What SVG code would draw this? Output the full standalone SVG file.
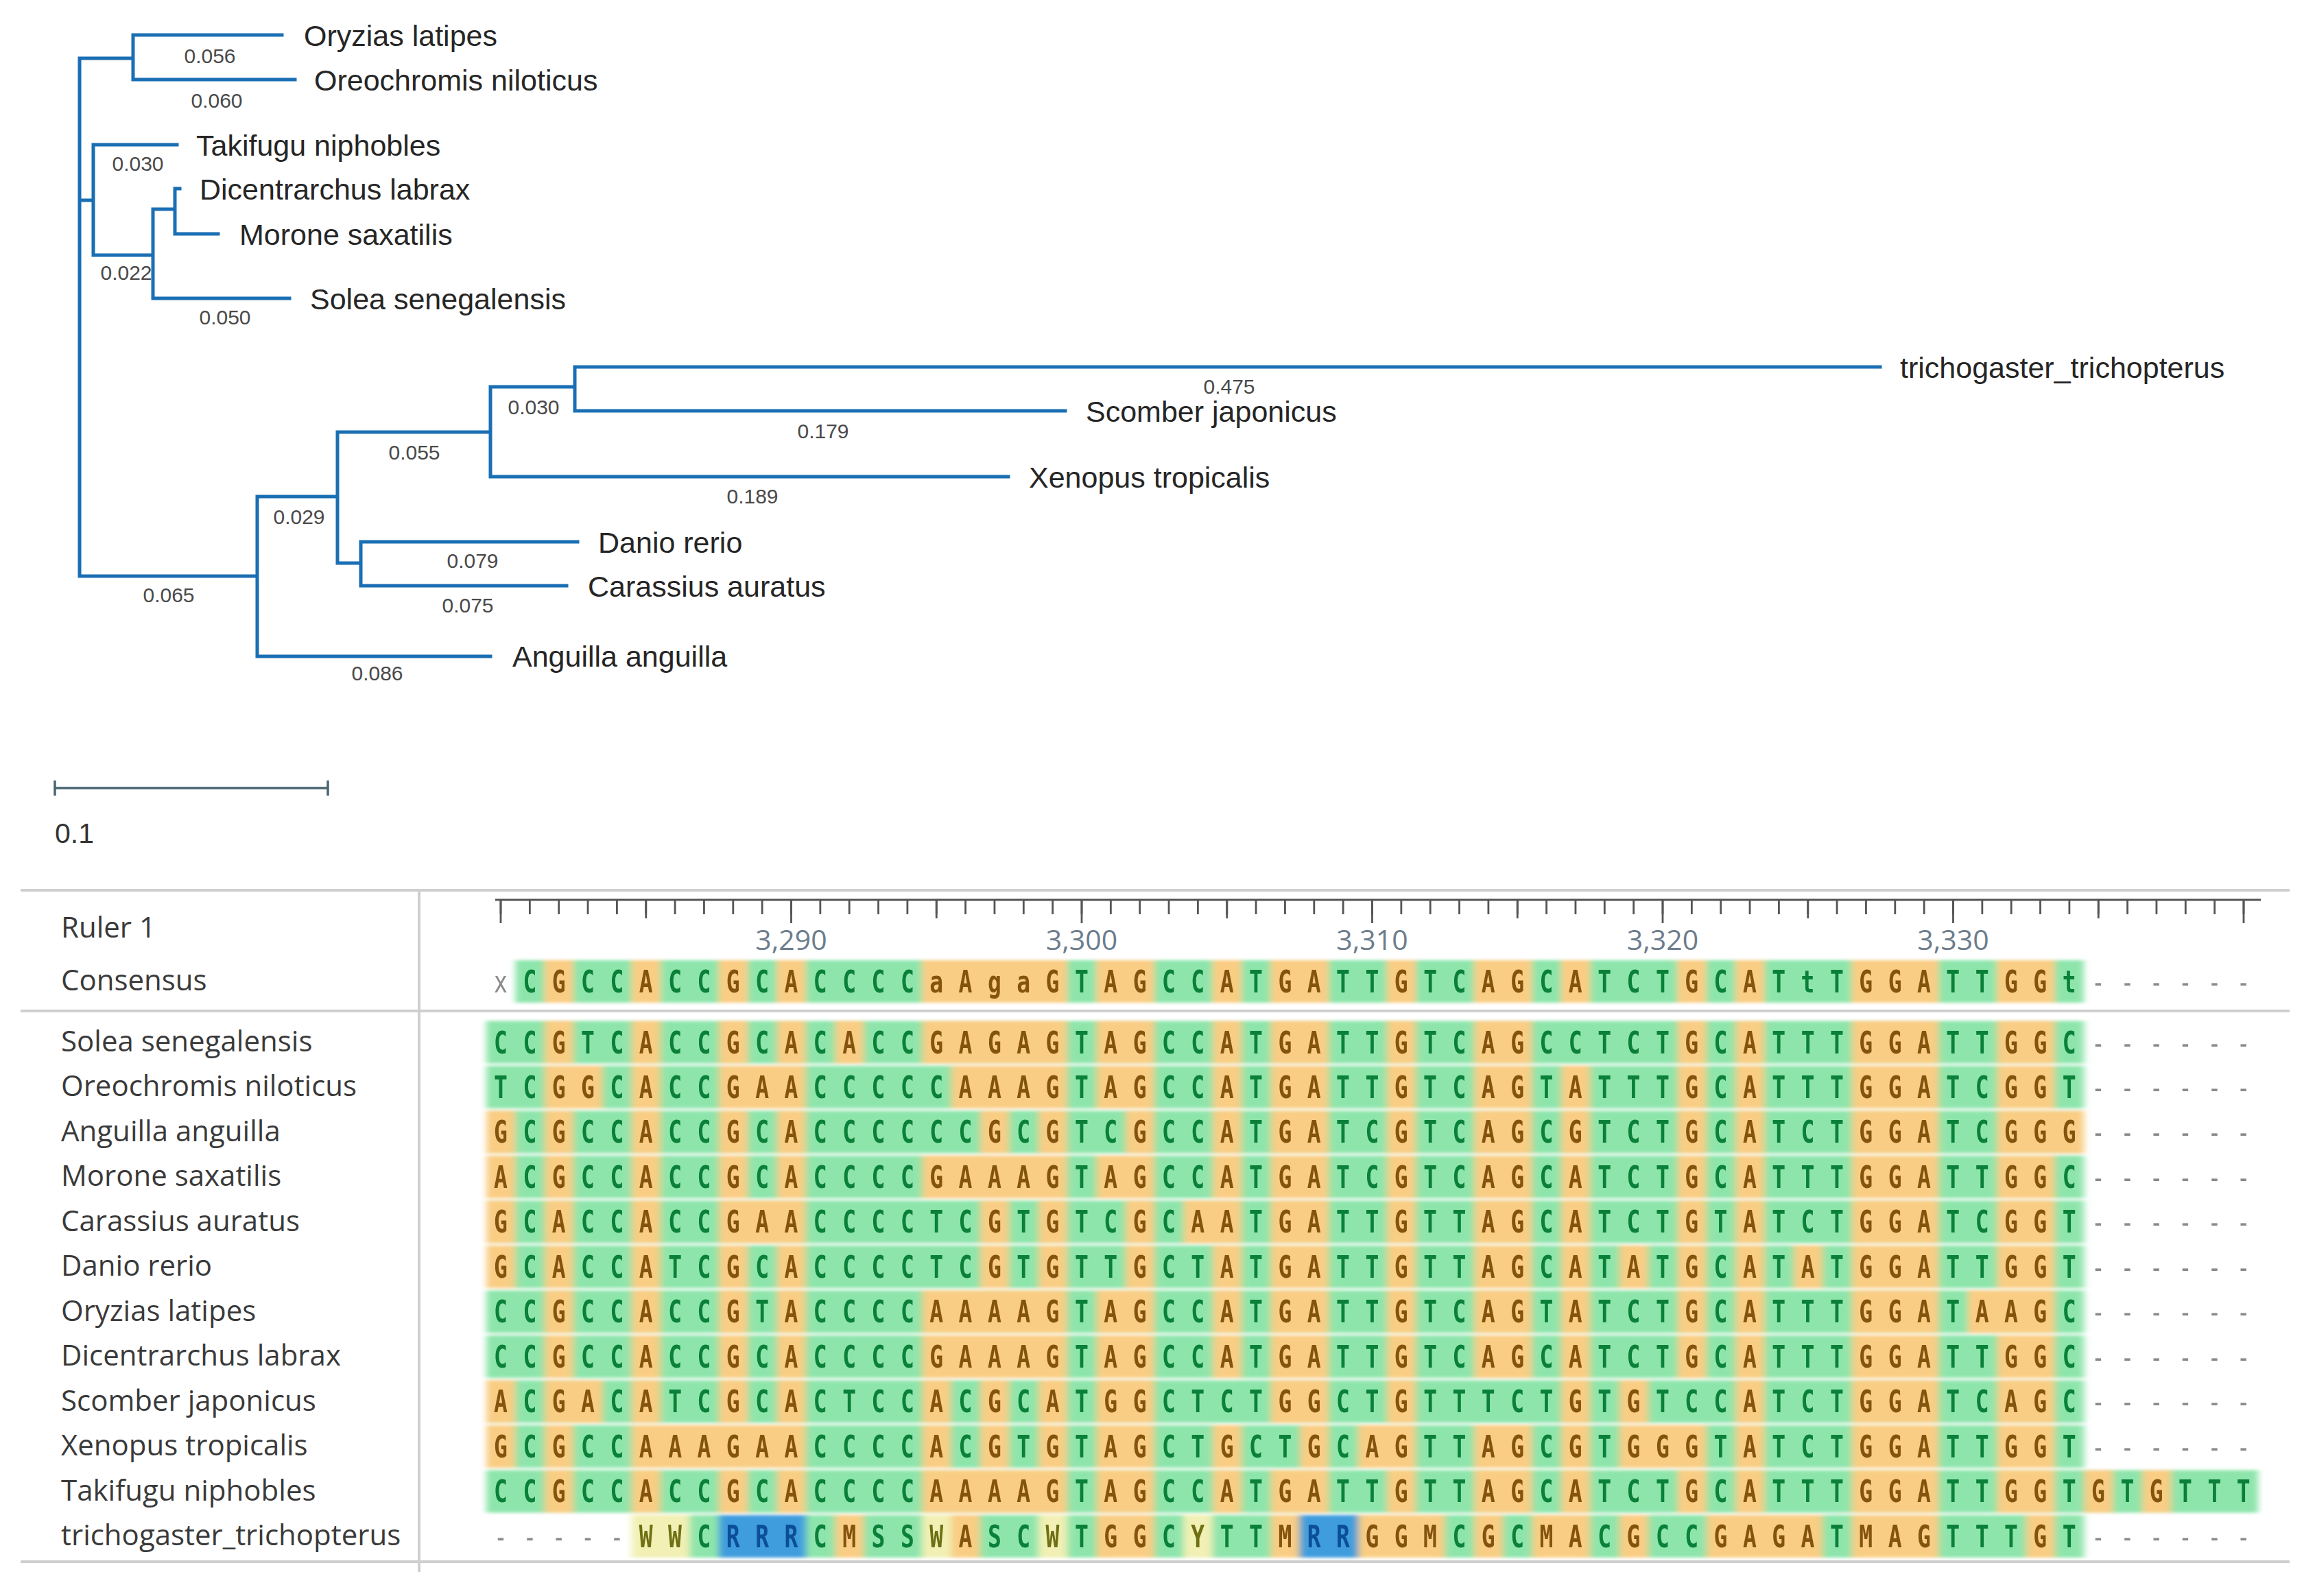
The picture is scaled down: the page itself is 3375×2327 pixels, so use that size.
<svg xmlns="http://www.w3.org/2000/svg" width="3375" height="2327" viewBox="0 0 3375 2327">
<defs>
<style>
.br{stroke:#1a6fb4;stroke-width:5;fill:none;stroke-linecap:square}
.tx{font-family:"Liberation Sans",Arial,sans-serif;font-size:43px;fill:#262626}
.bl{font-family:"Liberation Sans",Arial,sans-serif;font-size:30px;fill:#4a4a4a;text-anchor:middle}
.sep{stroke:#cfcfcf;stroke-width:4;fill:none}
.rl{font-family:"Open Sans",sans-serif;font-size:42px;fill:#3a3a3a}
.rn{font-family:"Open Sans",sans-serif;font-size:41px;fill:#6c7d8d;text-anchor:middle}
.sq{font-family:"DejaVu Sans Mono",monospace;font-size:44px;font-weight:bold;letter-spacing:29.976px;fill:#0a8038}
.sq tspan{fill:#84540e}
.sq tspan.n{fill:#8a8a8a;font-weight:normal}
.sq tspan.w{fill:#6f6f14}
.sq tspan.r{fill:#0c4f98}
.g{fill:#8ee5ac}
.o{fill:#f9cd84}
.p{fill:#f2f0b4}
.b{fill:#3f9ddd}
</style>
<filter id="soft" x="-2%" y="-5%" width="104%" height="110%"><feGaussianBlur stdDeviation="5 2"/></filter>
</defs>
<rect width="3375" height="2327" fill="#ffffff"/>

<g id="connectors">
<path class="br" d="M116 85V840 M116 85H194 M194 51V116 M194 51H411 M194 116H430 M116 292H136 M136 211V372 M136 211H258 M136 372H223 M223 305V435 M223 435H422 M223 305H255 M255 275V341 M255 275H262 M255 341H318 M116 840H375 M375 724V957 M375 957H715 M375 724H492 M492 630V821 M492 821H526 M526 790V854 M526 790H842 M526 854H826 M492 630H715 M715 564V695 M715 695H1470 M715 564H838 M838 535V599 M838 535H2741 M838 599H1553"/>
</g>
<g id="branch-labels">
<text class="bl" x="306" y="92">0.056</text>
<text class="bl" x="316" y="157">0.060</text>
<text class="bl" x="201" y="249">0.030</text>
<text class="bl" x="184" y="408">0.022</text>
<text class="bl" x="328" y="473">0.050</text>
<text class="bl" x="246" y="878">0.065</text>
<text class="bl" x="550" y="992">0.086</text>
<text class="bl" x="436" y="764">0.029</text>
<text class="bl" x="604" y="670">0.055</text>
<text class="bl" x="778" y="604">0.030</text>
<text class="bl" x="1792" y="574">0.475</text>
<text class="bl" x="1200" y="639">0.179</text>
<text class="bl" x="1097" y="734">0.189</text>
<text class="bl" x="689" y="828">0.079</text>
<text class="bl" x="682" y="893">0.075</text>
</g>
<g id="n-oryzias"><text class="tx" x="443" y="67">Oryzias latipes</text></g>
<g id="n-oreochromis"><text class="tx" x="458" y="132">Oreochromis niloticus</text></g>
<g id="n-takifugu"><text class="tx" x="286" y="227">Takifugu niphobles</text></g>
<g id="n-dicentrarchus"><text class="tx" x="291" y="291">Dicentrarchus labrax</text></g>
<g id="n-morone"><text class="tx" x="349" y="357">Morone saxatilis</text></g>
<g id="n-solea"><text class="tx" x="452" y="451">Solea senegalensis</text></g>
<g id="n-trichogaster"><text class="tx" x="2770" y="551">trichogaster_trichopterus</text></g>
<g id="n-scomber"><text class="tx" x="1583" y="615">Scomber japonicus</text></g>
<g id="n-xenopus"><text class="tx" x="1500" y="711">Xenopus tropicalis</text></g>
<g id="n-danio"><text class="tx" x="872" y="806">Danio rerio</text></g>
<g id="n-carassius"><text class="tx" x="857" y="870">Carassius auratus</text></g>
<g id="n-anguilla"><text class="tx" x="747" y="972">Anguilla anguilla</text></g>

<g id="scale-bar">
<path d="M80 1149H478 M80 1138V1160 M478 1138V1160" stroke="#4a6470" stroke-width="3.5" fill="none"/>
<text class="tx" x="80" y="1229" style="fill:#333;font-size:41px">0.1</text>
</g>

<g id="panel-lines">
<path class="sep" d="M30 1298H3338 M30 1474H3338 M30 2277H3338 M611 1298V2292"/>
</g>

<g id="ruler">
<path d="M722 1312H3296" stroke="#555" stroke-width="3" fill="none"/>
<line x1="728.6" y1="1322.5" x2="3275" y2="1322.5" stroke="#555" stroke-width="21" stroke-dasharray="2.8 39.55"/>
<path d="M941.75 1312V1339 M1365.25 1312V1339 M1788.75 1312V1339 M2212.25 1312V1339 M2635.75 1312V1339 M3059.25 1312V1339" stroke="#555" stroke-width="2.8"/>
<path d="M730 1312V1346 M1153.5 1312V1346 M1577 1312V1346 M2000.5 1312V1346 M2424 1312V1346 M2847.5 1312V1346 M3271 1312V1346" stroke="#555" stroke-width="2.8"/>
<text class="rn" x="1153.5" y="1385">3,290</text>
<text class="rn" x="1577" y="1385">3,300</text>
<text class="rn" x="2000.5" y="1385">3,310</text>
<text class="rn" x="2424" y="1385">3,320</text>
<text class="rn" x="2847.5" y="1385">3,330</text>
</g>

<g id="row-labels">
<text class="rl" x="89" y="1367">Ruler 1</text>
<text class="rl" x="89" y="1444">Consensus</text>
<text class="rl" x="89" y="1532.5">Solea senegalensis</text>
<text class="rl" x="89" y="1598">Oreochromis niloticus</text>
<text class="rl" x="89" y="1663.5">Anguilla anguilla</text>
<text class="rl" x="89" y="1729">Morone saxatilis</text>
<text class="rl" x="89" y="1794.5">Carassius auratus</text>
<text class="rl" x="89" y="1860">Danio rerio</text>
<text class="rl" x="89" y="1925.5">Oryzias latipes</text>
<text class="rl" x="89" y="1991">Dicentrarchus labrax</text>
<text class="rl" x="89" y="2056.5">Scomber japonicus</text>
<text class="rl" x="89" y="2122">Xenopus tropicalis</text>
<text class="rl" x="89" y="2187.5">Takifugu niphobles</text>
<text class="rl" x="89" y="2253">trichogaster_trichopterus</text>
</g>

<g id="alignment-bg" filter="url(#soft)">
<g transform="translate(708.825 0) scale(42.35 1)">
<g transform="translate(0 1400)"><rect class="g" x="1" width="54" height="62"/><rect class="o" x="2" width="1" height="62"/><rect class="o" x="5" width="1" height="62"/><rect class="o" x="8" width="1" height="62"/><rect class="o" x="10" width="1" height="62"/><rect class="o" x="15" width="5" height="62"/><rect class="o" x="21" width="2" height="62"/><rect class="o" x="25" width="1" height="62"/><rect class="o" x="27" width="2" height="62"/><rect class="o" x="31" width="1" height="62"/><rect class="o" x="34" width="2" height="62"/><rect class="o" x="37" width="1" height="62"/><rect class="o" x="41" width="1" height="62"/><rect class="o" x="43" width="1" height="62"/><rect class="o" x="47" width="3" height="62"/><rect class="o" x="52" width="2" height="62"/></g>
<g transform="translate(0 1488.5)"><rect class="g" x="0" width="55" height="62"/><rect class="o" x="2" width="1" height="62"/><rect class="o" x="5" width="1" height="62"/><rect class="o" x="8" width="1" height="62"/><rect class="o" x="10" width="1" height="62"/><rect class="o" x="12" width="1" height="62"/><rect class="o" x="15" width="5" height="62"/><rect class="o" x="21" width="2" height="62"/><rect class="o" x="25" width="1" height="62"/><rect class="o" x="27" width="2" height="62"/><rect class="o" x="31" width="1" height="62"/><rect class="o" x="34" width="2" height="62"/><rect class="o" x="41" width="1" height="62"/><rect class="o" x="43" width="1" height="62"/><rect class="o" x="47" width="3" height="62"/><rect class="o" x="52" width="2" height="62"/></g>
<g transform="translate(0 1554)"><rect class="g" x="0" width="55" height="62"/><rect class="o" x="2" width="2" height="62"/><rect class="o" x="5" width="1" height="62"/><rect class="o" x="8" width="3" height="62"/><rect class="o" x="16" width="4" height="62"/><rect class="o" x="21" width="2" height="62"/><rect class="o" x="25" width="1" height="62"/><rect class="o" x="27" width="2" height="62"/><rect class="o" x="31" width="1" height="62"/><rect class="o" x="34" width="2" height="62"/><rect class="o" x="37" width="1" height="62"/><rect class="o" x="41" width="1" height="62"/><rect class="o" x="43" width="1" height="62"/><rect class="o" x="47" width="3" height="62"/><rect class="o" x="52" width="2" height="62"/></g>
<g transform="translate(0 1619.5)"><rect class="g" x="0" width="55" height="62"/><rect class="o" x="0" width="1" height="62"/><rect class="o" x="2" width="1" height="62"/><rect class="o" x="5" width="1" height="62"/><rect class="o" x="8" width="1" height="62"/><rect class="o" x="10" width="1" height="62"/><rect class="o" x="17" width="1" height="62"/><rect class="o" x="19" width="1" height="62"/><rect class="o" x="22" width="1" height="62"/><rect class="o" x="25" width="1" height="62"/><rect class="o" x="27" width="2" height="62"/><rect class="o" x="31" width="1" height="62"/><rect class="o" x="34" width="2" height="62"/><rect class="o" x="37" width="1" height="62"/><rect class="o" x="41" width="1" height="62"/><rect class="o" x="43" width="1" height="62"/><rect class="o" x="47" width="3" height="62"/><rect class="o" x="52" width="3" height="62"/></g>
<g transform="translate(0 1685)"><rect class="g" x="0" width="55" height="62"/><rect class="o" x="0" width="1" height="62"/><rect class="o" x="2" width="1" height="62"/><rect class="o" x="5" width="1" height="62"/><rect class="o" x="8" width="1" height="62"/><rect class="o" x="10" width="1" height="62"/><rect class="o" x="15" width="5" height="62"/><rect class="o" x="21" width="2" height="62"/><rect class="o" x="25" width="1" height="62"/><rect class="o" x="27" width="2" height="62"/><rect class="o" x="31" width="1" height="62"/><rect class="o" x="34" width="2" height="62"/><rect class="o" x="37" width="1" height="62"/><rect class="o" x="41" width="1" height="62"/><rect class="o" x="43" width="1" height="62"/><rect class="o" x="47" width="3" height="62"/><rect class="o" x="52" width="2" height="62"/></g>
<g transform="translate(0 1750.5)"><rect class="g" x="0" width="55" height="62"/><rect class="o" x="0" width="1" height="62"/><rect class="o" x="2" width="1" height="62"/><rect class="o" x="5" width="1" height="62"/><rect class="o" x="8" width="3" height="62"/><rect class="o" x="17" width="1" height="62"/><rect class="o" x="19" width="1" height="62"/><rect class="o" x="22" width="1" height="62"/><rect class="o" x="24" width="2" height="62"/><rect class="o" x="27" width="2" height="62"/><rect class="o" x="31" width="1" height="62"/><rect class="o" x="34" width="2" height="62"/><rect class="o" x="37" width="1" height="62"/><rect class="o" x="41" width="1" height="62"/><rect class="o" x="43" width="1" height="62"/><rect class="o" x="47" width="3" height="62"/><rect class="o" x="52" width="2" height="62"/></g>
<g transform="translate(0 1816)"><rect class="g" x="0" width="55" height="62"/><rect class="o" x="0" width="1" height="62"/><rect class="o" x="2" width="1" height="62"/><rect class="o" x="5" width="1" height="62"/><rect class="o" x="8" width="1" height="62"/><rect class="o" x="10" width="1" height="62"/><rect class="o" x="17" width="1" height="62"/><rect class="o" x="19" width="1" height="62"/><rect class="o" x="22" width="1" height="62"/><rect class="o" x="25" width="1" height="62"/><rect class="o" x="27" width="2" height="62"/><rect class="o" x="31" width="1" height="62"/><rect class="o" x="34" width="2" height="62"/><rect class="o" x="37" width="1" height="62"/><rect class="o" x="39" width="1" height="62"/><rect class="o" x="41" width="1" height="62"/><rect class="o" x="43" width="1" height="62"/><rect class="o" x="45" width="1" height="62"/><rect class="o" x="47" width="3" height="62"/><rect class="o" x="52" width="2" height="62"/></g>
<g transform="translate(0 1881.5)"><rect class="g" x="0" width="55" height="62"/><rect class="o" x="2" width="1" height="62"/><rect class="o" x="5" width="1" height="62"/><rect class="o" x="8" width="1" height="62"/><rect class="o" x="10" width="1" height="62"/><rect class="o" x="15" width="5" height="62"/><rect class="o" x="21" width="2" height="62"/><rect class="o" x="25" width="1" height="62"/><rect class="o" x="27" width="2" height="62"/><rect class="o" x="31" width="1" height="62"/><rect class="o" x="34" width="2" height="62"/><rect class="o" x="37" width="1" height="62"/><rect class="o" x="41" width="1" height="62"/><rect class="o" x="43" width="1" height="62"/><rect class="o" x="47" width="3" height="62"/><rect class="o" x="51" width="3" height="62"/></g>
<g transform="translate(0 1947)"><rect class="g" x="0" width="55" height="62"/><rect class="o" x="2" width="1" height="62"/><rect class="o" x="5" width="1" height="62"/><rect class="o" x="8" width="1" height="62"/><rect class="o" x="10" width="1" height="62"/><rect class="o" x="15" width="5" height="62"/><rect class="o" x="21" width="2" height="62"/><rect class="o" x="25" width="1" height="62"/><rect class="o" x="27" width="2" height="62"/><rect class="o" x="31" width="1" height="62"/><rect class="o" x="34" width="2" height="62"/><rect class="o" x="37" width="1" height="62"/><rect class="o" x="41" width="1" height="62"/><rect class="o" x="43" width="1" height="62"/><rect class="o" x="47" width="3" height="62"/><rect class="o" x="52" width="2" height="62"/></g>
<g transform="translate(0 2012.5)"><rect class="g" x="0" width="55" height="62"/><rect class="o" x="0" width="1" height="62"/><rect class="o" x="2" width="2" height="62"/><rect class="o" x="5" width="1" height="62"/><rect class="o" x="8" width="1" height="62"/><rect class="o" x="10" width="1" height="62"/><rect class="o" x="15" width="1" height="62"/><rect class="o" x="17" width="1" height="62"/><rect class="o" x="19" width="1" height="62"/><rect class="o" x="21" width="2" height="62"/><rect class="o" x="27" width="2" height="62"/><rect class="o" x="31" width="1" height="62"/><rect class="o" x="37" width="1" height="62"/><rect class="o" x="39" width="1" height="62"/><rect class="o" x="43" width="1" height="62"/><rect class="o" x="47" width="3" height="62"/><rect class="o" x="52" width="2" height="62"/></g>
<g transform="translate(0 2078)"><rect class="g" x="0" width="55" height="62"/><rect class="o" x="0" width="1" height="62"/><rect class="o" x="2" width="1" height="62"/><rect class="o" x="5" width="6" height="62"/><rect class="o" x="15" width="1" height="62"/><rect class="o" x="17" width="1" height="62"/><rect class="o" x="19" width="1" height="62"/><rect class="o" x="21" width="2" height="62"/><rect class="o" x="25" width="1" height="62"/><rect class="o" x="28" width="1" height="62"/><rect class="o" x="30" width="2" height="62"/><rect class="o" x="34" width="2" height="62"/><rect class="o" x="37" width="1" height="62"/><rect class="o" x="39" width="3" height="62"/><rect class="o" x="43" width="1" height="62"/><rect class="o" x="47" width="3" height="62"/><rect class="o" x="52" width="2" height="62"/></g>
<g transform="translate(0 2143.5)"><rect class="g" x="0" width="61" height="62"/><rect class="o" x="2" width="1" height="62"/><rect class="o" x="5" width="1" height="62"/><rect class="o" x="8" width="1" height="62"/><rect class="o" x="10" width="1" height="62"/><rect class="o" x="15" width="5" height="62"/><rect class="o" x="21" width="2" height="62"/><rect class="o" x="25" width="1" height="62"/><rect class="o" x="27" width="2" height="62"/><rect class="o" x="31" width="1" height="62"/><rect class="o" x="34" width="2" height="62"/><rect class="o" x="37" width="1" height="62"/><rect class="o" x="41" width="1" height="62"/><rect class="o" x="43" width="1" height="62"/><rect class="o" x="47" width="3" height="62"/><rect class="o" x="52" width="2" height="62"/><rect class="o" x="55" width="1" height="62"/><rect class="o" x="57" width="1" height="62"/></g>
<g transform="translate(0 2209)"><rect class="g" x="5" width="50" height="62"/><rect class="p" x="5" width="2" height="62"/><rect class="p" x="15" width="1" height="62"/><rect class="p" x="19" width="1" height="62"/><rect class="p" x="24" width="1" height="62"/><rect class="b" x="8" width="3" height="62"/><rect class="b" x="28" width="2" height="62"/><rect class="o" x="12" width="1" height="62"/><rect class="o" x="16" width="1" height="62"/><rect class="o" x="21" width="2" height="62"/><rect class="o" x="27" width="1" height="62"/><rect class="o" x="30" width="3" height="62"/><rect class="o" x="34" width="1" height="62"/><rect class="o" x="36" width="2" height="62"/><rect class="o" x="39" width="1" height="62"/><rect class="o" x="42" width="4" height="62"/><rect class="o" x="47" width="3" height="62"/><rect class="o" x="53" width="1" height="62"/></g>
</g>
</g>

<g id="alignment-seq" transform="scale(0.75 1)">
<g id="row-consensus"><text class="sq" x="960.09" y="1447"><tspan class="n">x</tspan>C<tspan>G</tspan>CC<tspan>A</tspan>CC<tspan>G</tspan>C<tspan>A</tspan>CCCC<tspan>aAgaG</tspan>T<tspan>AG</tspan>CC<tspan>A</tspan>T<tspan>GA</tspan>TT<tspan>G</tspan>TC<tspan>AG</tspan>C<tspan>A</tspan>TCT<tspan>G</tspan>C<tspan>A</tspan>TtT<tspan>GGA</tspan>TT<tspan>GG</tspan>t<tspan class="n">------</tspan></text></g>
<g id="row-solea"><text class="sq" x="960.09" y="1535.5">CC<tspan>G</tspan>TC<tspan>A</tspan>CC<tspan>G</tspan>C<tspan>A</tspan>C<tspan>A</tspan>CC<tspan>GAGAG</tspan>T<tspan>AG</tspan>CC<tspan>A</tspan>T<tspan>GA</tspan>TT<tspan>G</tspan>TC<tspan>AG</tspan>CCTCT<tspan>G</tspan>C<tspan>A</tspan>TTT<tspan>GGA</tspan>TT<tspan>GG</tspan>C<tspan class="n">------</tspan></text></g>
<g id="row-oreochromis"><text class="sq" x="960.09" y="1601">TC<tspan>GG</tspan>C<tspan>A</tspan>CC<tspan>GAA</tspan>CCCCC<tspan>AAAG</tspan>T<tspan>AG</tspan>CC<tspan>A</tspan>T<tspan>GA</tspan>TT<tspan>G</tspan>TC<tspan>AG</tspan>T<tspan>A</tspan>TTT<tspan>G</tspan>C<tspan>A</tspan>TTT<tspan>GGA</tspan>TC<tspan>GG</tspan>T<tspan class="n">------</tspan></text></g>
<g id="row-anguilla"><text class="sq" x="960.09" y="1666.5"><tspan>G</tspan>C<tspan>G</tspan>CC<tspan>A</tspan>CC<tspan>G</tspan>C<tspan>A</tspan>CCCCCC<tspan>G</tspan>C<tspan>G</tspan>TC<tspan>G</tspan>CC<tspan>A</tspan>T<tspan>GA</tspan>TC<tspan>G</tspan>TC<tspan>AG</tspan>C<tspan>G</tspan>TCT<tspan>G</tspan>C<tspan>A</tspan>TCT<tspan>GGA</tspan>TC<tspan>GGG</tspan><tspan class="n">------</tspan></text></g>
<g id="row-morone"><text class="sq" x="960.09" y="1732"><tspan>A</tspan>C<tspan>G</tspan>CC<tspan>A</tspan>CC<tspan>G</tspan>C<tspan>A</tspan>CCCC<tspan>GAAAG</tspan>T<tspan>AG</tspan>CC<tspan>A</tspan>T<tspan>GA</tspan>TC<tspan>G</tspan>TC<tspan>AG</tspan>C<tspan>A</tspan>TCT<tspan>G</tspan>C<tspan>A</tspan>TTT<tspan>GGA</tspan>TT<tspan>GG</tspan>C<tspan class="n">------</tspan></text></g>
<g id="row-carassius"><text class="sq" x="960.09" y="1797.5"><tspan>G</tspan>C<tspan>A</tspan>CC<tspan>A</tspan>CC<tspan>GAA</tspan>CCCCTC<tspan>G</tspan>T<tspan>G</tspan>TC<tspan>G</tspan>C<tspan>AA</tspan>T<tspan>GA</tspan>TT<tspan>G</tspan>TT<tspan>AG</tspan>C<tspan>A</tspan>TCT<tspan>G</tspan>T<tspan>A</tspan>TCT<tspan>GGA</tspan>TC<tspan>GG</tspan>T<tspan class="n">------</tspan></text></g>
<g id="row-danio"><text class="sq" x="960.09" y="1863"><tspan>G</tspan>C<tspan>A</tspan>CC<tspan>A</tspan>TC<tspan>G</tspan>C<tspan>A</tspan>CCCCTC<tspan>G</tspan>T<tspan>G</tspan>TT<tspan>G</tspan>CT<tspan>A</tspan>T<tspan>GA</tspan>TT<tspan>G</tspan>TT<tspan>AG</tspan>C<tspan>A</tspan>T<tspan>A</tspan>T<tspan>G</tspan>C<tspan>A</tspan>T<tspan>A</tspan>T<tspan>GGA</tspan>TT<tspan>GG</tspan>T<tspan class="n">------</tspan></text></g>
<g id="row-oryzias"><text class="sq" x="960.09" y="1928.5">CC<tspan>G</tspan>CC<tspan>A</tspan>CC<tspan>G</tspan>T<tspan>A</tspan>CCCC<tspan>AAAAG</tspan>T<tspan>AG</tspan>CC<tspan>A</tspan>T<tspan>GA</tspan>TT<tspan>G</tspan>TC<tspan>AG</tspan>T<tspan>A</tspan>TCT<tspan>G</tspan>C<tspan>A</tspan>TTT<tspan>GGA</tspan>T<tspan>AAG</tspan>C<tspan class="n">------</tspan></text></g>
<g id="row-dicentrarchus"><text class="sq" x="960.09" y="1994">CC<tspan>G</tspan>CC<tspan>A</tspan>CC<tspan>G</tspan>C<tspan>A</tspan>CCCC<tspan>GAAAG</tspan>T<tspan>AG</tspan>CC<tspan>A</tspan>T<tspan>GA</tspan>TT<tspan>G</tspan>TC<tspan>AG</tspan>C<tspan>A</tspan>TCT<tspan>G</tspan>C<tspan>A</tspan>TTT<tspan>GGA</tspan>TT<tspan>GG</tspan>C<tspan class="n">------</tspan></text></g>
<g id="row-scomber"><text class="sq" x="960.09" y="2059.5"><tspan>A</tspan>C<tspan>GA</tspan>C<tspan>A</tspan>TC<tspan>G</tspan>C<tspan>A</tspan>CTCC<tspan>A</tspan>C<tspan>G</tspan>C<tspan>A</tspan>T<tspan>GG</tspan>CTCT<tspan>GG</tspan>CT<tspan>G</tspan>TTTCT<tspan>G</tspan>T<tspan>G</tspan>TCC<tspan>A</tspan>TCT<tspan>GGA</tspan>TC<tspan>AG</tspan>C<tspan class="n">------</tspan></text></g>
<g id="row-xenopus"><text class="sq" x="960.09" y="2125"><tspan>G</tspan>C<tspan>G</tspan>CC<tspan>AAAGAA</tspan>CCCC<tspan>A</tspan>C<tspan>G</tspan>T<tspan>G</tspan>T<tspan>AG</tspan>CT<tspan>G</tspan>CT<tspan>G</tspan>C<tspan>AG</tspan>TT<tspan>AG</tspan>C<tspan>G</tspan>T<tspan>GGG</tspan>T<tspan>A</tspan>TCT<tspan>GGA</tspan>TT<tspan>GG</tspan>T<tspan class="n">------</tspan></text></g>
<g id="row-takifugu"><text class="sq" x="960.09" y="2190.5">CC<tspan>G</tspan>CC<tspan>A</tspan>CC<tspan>G</tspan>C<tspan>A</tspan>CCCC<tspan>AAAAG</tspan>T<tspan>AG</tspan>CC<tspan>A</tspan>T<tspan>GA</tspan>TT<tspan>G</tspan>TT<tspan>AG</tspan>C<tspan>A</tspan>TCT<tspan>G</tspan>C<tspan>A</tspan>TTT<tspan>GGA</tspan>TT<tspan>GG</tspan>T<tspan>G</tspan>T<tspan>G</tspan>TTT</text></g>
<g id="row-trichogaster"><text class="sq" x="960.09" y="2256"><tspan class="n">-----</tspan><tspan class="w">WW</tspan>C<tspan class="r">RRR</tspan>C<tspan>M</tspan>SS<tspan class="w">W</tspan><tspan>A</tspan>SC<tspan class="w">W</tspan>T<tspan>GG</tspan>C<tspan class="w">Y</tspan>TT<tspan>M</tspan><tspan class="r">RR</tspan><tspan>GGM</tspan>C<tspan>G</tspan>C<tspan>MA</tspan>C<tspan>G</tspan>CC<tspan>GAGA</tspan>T<tspan>MAG</tspan>TTT<tspan>G</tspan>T<tspan class="n">------</tspan></text></g>
</g>
</svg>
